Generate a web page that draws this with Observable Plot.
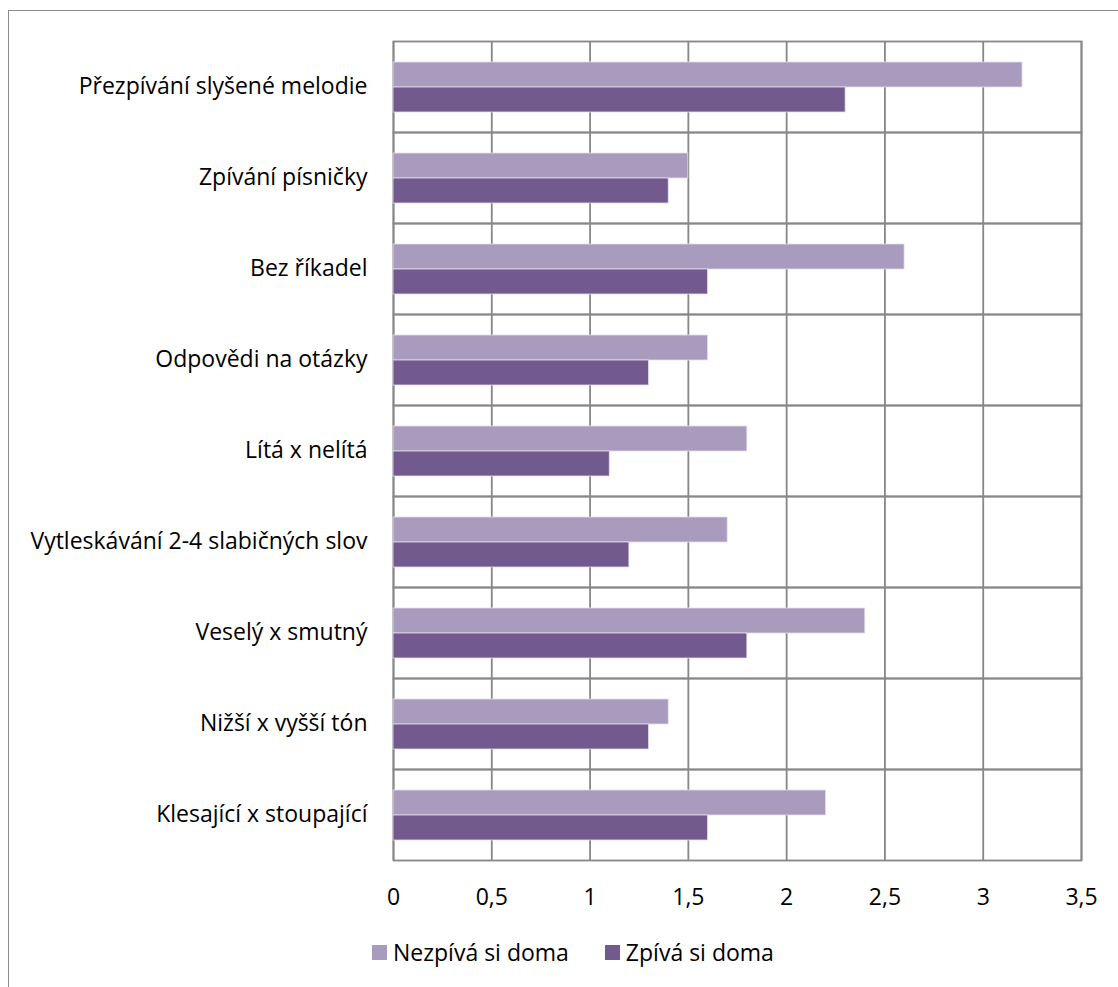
<!DOCTYPE html>
<html>
<head>
<meta charset="utf-8">
<script src="https://cdn.jsdelivr.net/npm/d3@7"></script>
<script src="https://cdn.jsdelivr.net/npm/@observablehq/plot@0.6"></script>
<style>
  html, body { margin: 0; padding: 0; background: #fff; }
  body { width: 1118px; height: 987px; position: relative; overflow: hidden; font-family: "Open Sans", sans-serif; }
  #frame { position: absolute; left: 8px; top: 10px; width: 1200px; height: 1100px; border-left: 1.5px solid #8c8c8c; border-top: 1.5px solid #8c8c8c; }
  #chart { position: absolute; left: 0; top: 0; }
  #legend { position: absolute; top: 936px; left: 372px; display: flex; align-items: center; font-size: 23px; color: #000; }
  .item { display: flex; align-items: center; margin-right: 36px; }
  .sw { width: 15px; height: 15px; margin-right: 6px; }
</style>
</head>
<body>
<div id="frame"></div>
<div id="chart"></div>
<div id="legend"></div>
<script>
const categories = [
  "Přezpívání slyšené melodie",
  "Zpívání písničky",
  "Bez říkadel",
  "Odpovědi na otázky",
  "Lítá x nelítá",
  "Vytleskávání 2-4 slabičných slov",
  "Veselý x smutný",
  "Nižší x vyšší tón",
  "Klesající x stoupající"
];
const series = ["Nezpívá si doma", "Zpívá si doma"];
const nezpiva = [3.2, 1.5, 2.6, 1.6, 1.8, 1.7, 2.4, 1.4, 2.2];
const zpiva   = [2.3, 1.4, 1.6, 1.3, 1.1, 1.2, 1.8, 1.3, 1.6];
const xTicks = [0, 0.5, 1, 1.5, 2, 2.5, 3, 3.5];
const colors = ["#a99bbd", "#725a8e"];

const table = [];
categories.forEach((c, i) => {
  table.push({category: c, series: series[0], value: nezpiva[i]});
  table.push({category: c, series: series[1], value: zpiva[i]});
});

const chart = Plot.plot({
  width: 1118,
  height: 920,
  marginLeft: 393,
  marginRight: 37,
  marginTop: 40,
  marginBottom: 59,
  style: {fontFamily: "Open Sans, sans-serif", fontSize: "23px", color: "#000", background: "transparent"},
  x: {domain: [0, 3.5], ticks: xTicks, tickFormat: d => String(d).replace(".", ","), tickSize: 0, tickPadding: 28, label: null},
  y: {domain: series, axis: null, paddingInner: 0, paddingOuter: 0.78},
  fy: {domain: categories, padding: 0, axis: "left", label: null, tickSize: 0, tickPadding: 26},
  color: {domain: series, range: colors},
  marks: [
    Plot.ruleX(xTicks, {stroke: "#878787", strokeWidth: 1.8}),
    Plot.frame({stroke: "#878787", strokeWidth: 1.8}),
    Plot.barX(table, {fy: "category", y: "series", x: "value", fill: "series", stroke: "#e4dcef", strokeWidth: 0.8})
  ]
});
document.getElementById("chart").appendChild(chart);

const legend = document.getElementById("legend");
series.forEach((s, i) => {
  const item = document.createElement("div");
  item.className = "item";
  const sw = document.createElement("div");
  sw.className = "sw";
  sw.style.background = colors[i];
  item.appendChild(sw);
  const t = document.createElement("span");
  t.textContent = s;
  item.appendChild(t);
  legend.appendChild(item);
});
</script>
</body>
</html>
